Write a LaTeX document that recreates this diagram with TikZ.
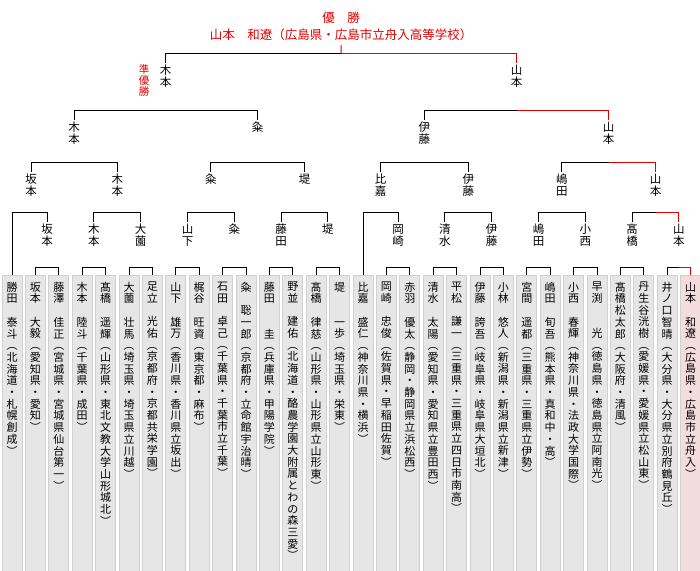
\documentclass[tikz,border=0pt]{standalone}
\usepackage{fontspec}
\setmainfont{Noto Sans CJK JP}
\usetikzlibrary{calc}
\definecolor{winred}{HTML}{E00000}
\definecolor{boxgray}{HTML}{E6E6E6}
\definecolor{boxpink}{HTML}{F5DCDC}
% vertical text: one character per line
\def\vchars#1{#1\vcharsnext}
\def\vcharsnext#1{\ifx\relax#1\else\\#1\expandafter\vcharsnext\fi}

\begin{document}
\begin{tikzpicture}[x=1pt,y=-1pt,line width=1pt,
lab/.style={anchor=north,inner sep=0pt,outer sep=2pt,align=center,
  font=\fontsize{11.5}{12.3}\selectfont},
plab/.style={lab,outer sep=0pt,font=\fontsize{11}{11.7}\selectfont},
col/.style={anchor=north,draw=black!18,fill=boxgray,minimum width=20pt,
  minimum height=296pt,inner sep=0pt},
win/.style={draw=winred}]
\useasboundingbox (0,0) rectangle (700,570);

% title
\node[text=winred,font=\fontsize{12.5}{12.5}\selectfont] (ttl) at (341,18) {優　勝};
\node[text=winred,font=\fontsize{12.5}{12.5}\selectfont] (champ) at (341,35)
  {山本　和遼（広島県・広島市立舟入高等学校）};

% players
\foreach \n [count=\i from 0] in {
勝田　泰斗︵北海道・札幌創成︶,坂本　大毅︵愛知県・愛知︶,
藤澤　佳正︵宮城県・宮城県仙台第一︶,木本　陸斗︵千葉県・成田︶,
髙橋　遥輝︵山形県・東北文教大学山形城北︶,大薗　壮馬︵埼玉県・埼玉県立川越︶,
足立　光佑︵京都府・京都共栄学園︶,山下　雄万︵香川県・香川県立坂出︶,
梶谷　旺資︵東京都・麻布︶,石田　卓己︵千葉県・千葉市立千葉︶,
粂　聡一郎︵京都府・立命館宇治晴︶,藤田　　圭︵兵庫県・甲陽学院︶,
野並　建佑︵北海道・酪農学園大附属とわの森三愛︶,髙橋　律慈︵山形県・山形県立山形東︶,
堤　　一歩︵埼玉県・栄東︶,比嘉　盛仁︵神奈川県・横浜︶,
岡崎　忠俊︵佐賀県・早稲田佐賀︶,赤羽　優太︵静岡・静岡県立浜松西︶,
清水　太陽︵愛知県・愛知県立豊田西︶,平松　謙一︵三重県・三重県立四日市南高︶,
伊藤　誇吾︵岐阜県・岐阜県大垣北︶,小林　悠人︵新潟県・新潟県立新津︶,
宮間　遥都︵三重県・三重県立伊勢︶,嶋田　旬吾︵熊本県・真和中・高︶,
小西　春輝︵神奈川県・法政大学国際︶,早渕　　光︵徳島県・徳島県立阿南光︶,
髙橋松太郎︵大阪府・清風︶,丹生谷洸樹︵愛媛県・愛媛県立松山東︶,
井ノ口智晴︵大分県・大分県立別府鶴見丘︶,山本　和遼︵広島県・広島市立舟入︶}{
  \ifnum\i=29
    \node[col,fill=boxpink] (b\i) at (12+23.4*\i,275) {};
  \else
    \node[col] (b\i) at (12+23.4*\i,275) {};
  \fi
  \node[plab] (p\i) at (12+23.4*\i,282) {\expandafter\vchars\n\relax};
}

% quarter-final level
\node[lab] (k4a) at (47.1,222) {\vchars 坂本\relax};
\node[lab] (k4b) at (93.9,222) {\vchars 木本\relax};
\node[lab] (k4c) at (140.7,222) {\vchars 大薗\relax};
\node[lab] (k4d) at (187.5,222) {\vchars 山下\relax};
\node[lab] (k4e) at (234.3,222) {\vchars 粂\relax};
\node[lab] (k4f) at (281.1,222) {\vchars 藤田\relax};
\node[lab] (k4g) at (327.9,222) {\vchars 堤\relax};
\node[lab] (k4h) at (398.1,222) {\vchars 岡崎\relax};
\node[lab] (k4i) at (444.9,222) {\vchars 清水\relax};
\node[lab] (k4j) at (491.7,222) {\vchars 伊藤\relax};
\node[lab] (k4k) at (538.5,222) {\vchars 嶋田\relax};
\node[lab] (k4l) at (585.3,222) {\vchars 小西\relax};
\node[lab] (k4m) at (632.1,222) {\vchars 髙橋\relax};
\node[lab] (k4n) at (678.9,222) {\vchars 山本\relax};

\node[lab] (k3a) at (31,172) {\vchars 坂本\relax};
\node[lab] (k3b) at (117.3,172) {\vchars 木本\relax};
\node[lab] (k3c) at (210.9,172) {\vchars 粂\relax};
\node[lab] (k3d) at (304.5,172) {\vchars 堤\relax};
\node[lab] (k3e) at (380.6,172) {\vchars 比嘉\relax};
\node[lab] (k3f) at (468.3,172) {\vchars 伊藤\relax};
\node[lab] (k3g) at (561.9,172) {\vchars 嶋田\relax};
\node[lab] (k3h) at (655.5,172) {\vchars 山本\relax};

\node[lab] (k2a) at (74,120) {\vchars 木本\relax};
\node[lab] (k2b) at (257.7,120) {\vchars 粂\relax};
\node[lab] (k2c) at (424.4,120) {\vchars 伊藤\relax};
\node[lab] (k2d) at (608.7,120) {\vchars 山本\relax};

\node[lab] (k1a) at (165.6,63) {\vchars 木本\relax};
\node[lab] (k1b) at (516.6,63) {\vchars 山本\relax};
\node[lab,text=winred,font=\fontsize{10.5}{11}\selectfont] (runner) at (144,63)
  {\vchars 準優勝\relax};

% brackets
\foreach \a/\b in {1/2,3/4,5/6,7/8,9/10,11/12,13/14,16/17,18/19,20/21,
                   22/23,24/25,26/27,28/29}
  \draw (b\a.north) -- ++(0,-8) -| (b\b.north);
\draw (b0.north) -- ++(0,-63) -| (k4a.north);
\draw (b15.north) -- ++(0,-63) -| (k4h.north);
\foreach \a/\b in {k4b/k4c,k4d/k4e,k4f/k4g,k4i/k4j,k4k/k4l,k4m/k4n}
  \draw (\a.north) -- ++(0,-10) -| (\b.north);
\foreach \a/\b in {k3a/k3b,k3c/k3d,k3e/k3f,k3g/k3h}
  \draw (\a.north) -- ++(0,-10) -| (\b.north);
\foreach \a/\b in {k2a/k2b,k2c/k2d}
  \draw (\a.north) -- ++(0,-10) -| (\b.north);
\draw (k1a.north) -- ++(0,-10) -| (k1b.north);

% winner's path
\draw[win] ($(b28.north)!.5!(b29.north)+(0,-8)$) -| (b29.north);
\draw[win] ($(k4m.north)!.5!(k4n.north)+(0,-10)$) -| (k4n.north);
\draw[win] ($(k3g.north)!.5!(k3h.north)+(0,-10)$) -| (k3h.north);
\draw[win] ($(k2c.north)!.5!(k2d.north)+(0,-10)$) -| (k2d.north);
\draw[win] ($(k1a.north)!.5!(k1b.north)+(0,-10)$) -| (k1b.north);
\draw[win] ($(k1a.north)!.5!(k1b.north)+(0,-10)$) -- (champ.south);
\end{tikzpicture}
\end{document}
